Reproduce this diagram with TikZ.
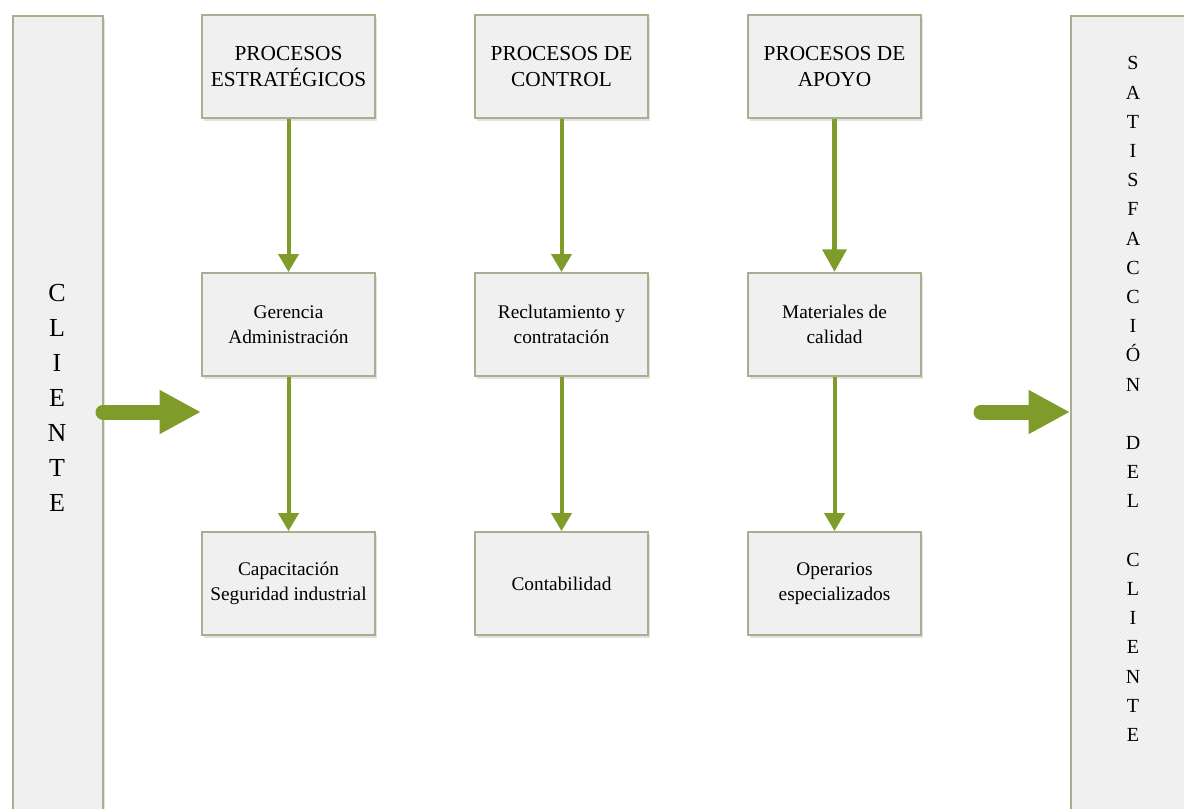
\documentclass[tikz,border=0pt]{standalone}
\usepackage{fontspec}
\setmainfont{Liberation Serif}
\usetikzlibrary{arrows.meta,shadows,patterns,positioning}
\definecolor{boxborder}{HTML}{A8AE8E}
\definecolor{boxfill}{HTML}{EEEEEE}
\definecolor{arrowgreen}{HTML}{7F9B2A}
\tikzset{
  panel/.style={
    drop shadow={opacity=0.22, shadow xshift=1.2pt, shadow yshift=-2pt},
    preaction={fill=boxfill},
    pattern=north east lines, pattern color=white!60!boxfill,
    draw=boxborder, line width=1.5pt},
  procbox/.style={panel, minimum width=129.75pt, minimum height=77.25pt,
    inner sep=2pt, align=center},
  titletext/.style={font=\fontsize{16pt}{20pt}\selectfont},
  itemtext/.style={font=\fontsize{14.5pt}{18.6pt}\selectfont},
  flow/.style={draw=arrowgreen, line width=3pt,
    -{Triangle[length=13.5pt,width=15pt]}},
  flowthick/.style={draw=arrowgreen, line width=4pt,
    -{Triangle[length=17pt,width=17.5pt]}},
  bigflow/.style={draw=arrowgreen, line width=11.25pt, line cap=round,
    -{Triangle[length=31pt,width=30.75pt]}},
}
\begin{document}
\begin{tikzpicture}[x=0.75pt,y=-0.75pt]
\useasboundingbox (0,0) rectangle (1184,808);
\clip (0,0) rectangle (1184,808);
% side bars
\node[panel, anchor=north west, minimum width=67.5pt, minimum height=640pt, inner sep=0pt] (clienteBar) at (12,15) {};
\node[panel, anchor=north west, minimum width=120pt, minimum height=640pt, inner sep=0pt] (satisBar) at (1070,15) {};
\node[align=center, font=\fontsize{19.5pt}{26.25pt}\selectfont] (clienteTxt) at (57,398)
  {C\\L\\I\\E\\N\\T\\E};
\node[align=center, font=\fontsize{15pt}{21.9pt}\selectfont] (satisTxt) at (1133,399)
  {S\\A\\T\\I\\S\\F\\A\\C\\C\\I\\Ó\\N\\\mbox{}\\D\\E\\L\\\mbox{}\\C\\L\\I\\E\\N\\T\\E};
% boxes
\node[procbox, titletext] (pe) at (288.5,66.5) {PROCESOS\\ESTRATÉGICOS};
\node[procbox, titletext] (pc) at (561.5,66.5) {PROCESOS DE\\CONTROL};
\node[procbox, titletext] (pa) at (834.5,66.5) {PROCESOS DE\\APOYO};
\node[procbox, itemtext] (ga) at (288.5,324.5) {Gerencia\\Administración};
\node[procbox, itemtext] (rc) at (561.5,324.5) {Reclutamiento y\\contratación};
\node[procbox, itemtext] (mc) at (834.5,324.5) {Materiales de\\calidad};
\node[procbox, itemtext] (cs) at (288.5,583.5) {Capacitación\\Seguridad industrial};
\node[procbox, itemtext] (co) at (561.5,583.5) {Contabilidad};
\node[procbox, itemtext] (oe) at (834.5,583.5) {Operarios\\especializados};
% vertical connectors
\draw[flow] (pe.south) -- (ga.north);
\draw[flow] (ga.south) -- (cs.north);
\draw[flow] (pc.south) -- (rc.north);
\draw[flow] (rc.south) -- (co.north);
\draw[flowthick] (pa.south) -- (mc.north);
\draw[flow] (mc.south) -- (oe.north);
% big arrows
\coordinate (inStart) at (103,412);
\coordinate (inTip) at (201,412);
\coordinate (outStart) at (981,412);
\coordinate (outTip) at (satisBar.west |- 0,412);
\draw[bigflow] (inStart) -- (inTip);
\draw[bigflow] (outStart) -- (outTip);
\end{tikzpicture}
\end{document}
